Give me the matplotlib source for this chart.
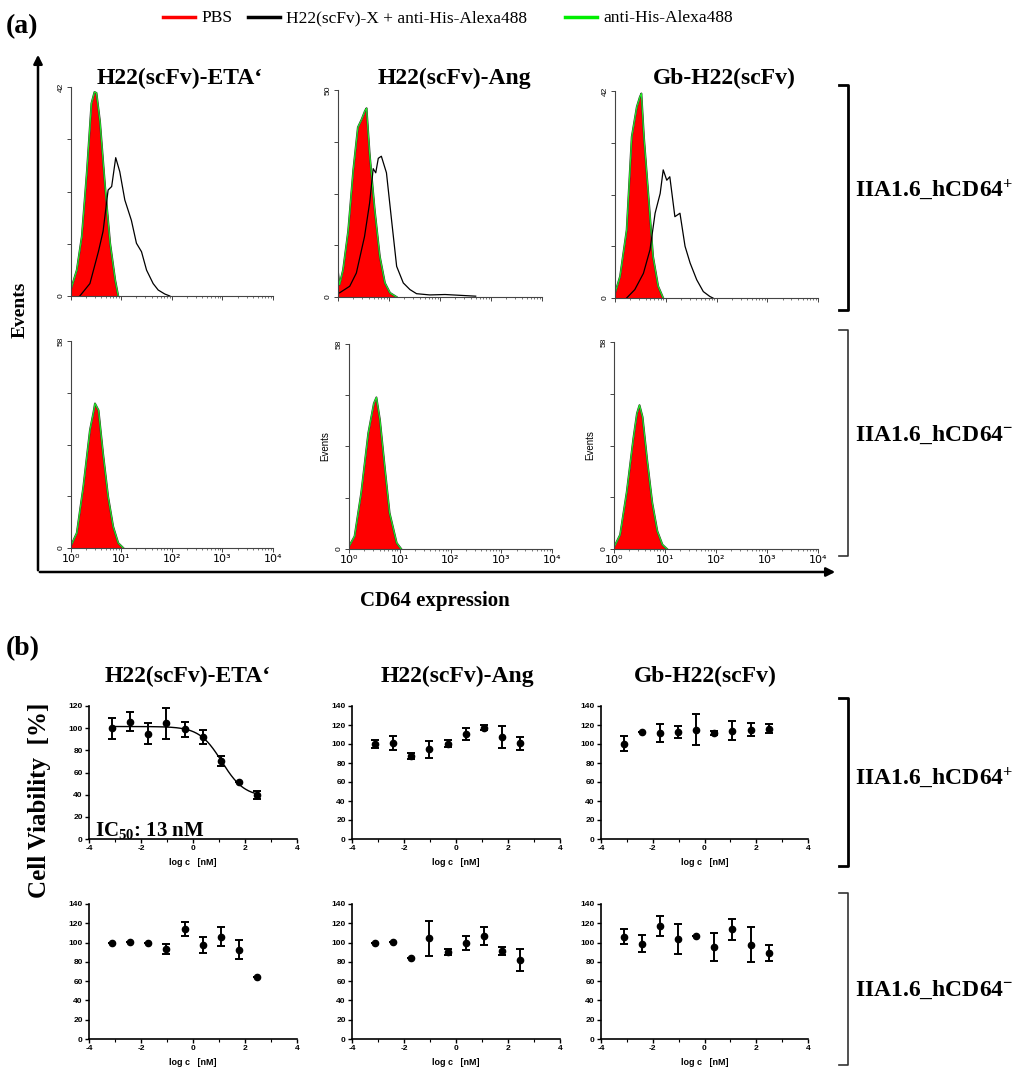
import numpy as np
import matplotlib
matplotlib.use("Agg")
import matplotlib.pyplot as plt
from matplotlib.lines import Line2D
from matplotlib.patches import FancyArrowPatch

plt.rcParams['mathtext.fontset'] = 'custom'
plt.rcParams['mathtext.rm'] = 'Liberation Serif:bold'
plt.rcParams['mathtext.it'] = 'Liberation Serif:bold'
plt.rcParams['mathtext.bf'] = 'Liberation Serif:bold'
plt.rcParams['axes.unicode_minus'] = False

SERIF = 'Liberation Serif'
SANS = 'Liberation Sans'

W, H = 1024, 1072

# ---------------- data: (a) flow cytometry histograms (x in decades) ----------------
constructs = ["H22(scFv)-ETA\u2018", "H22(scFv)-Ang", "Gb-H22(scFv)"]
cell_lines = ["IIA1.6_hCD64$^{+}$", "IIA1.6_hCD64$^{-}$"]
hist_ymax = [[42, 50, 42], [58, 58, 58]]
decade_labels = ["10\u2070", "10\u00b9", "10\u00b2", "10\u00b3", "10\u2074"]

# CD64+ row, PBS / anti-His control
pbs_x_eta = [0, 0.12, 0.22, 0.32, 0.41, 0.47, 0.51, 0.58, 0.68, 0.78, 0.88, 0.94]
pbs_y_eta = [1.2, 5.2, 12, 25, 38.7, 41, 40.8, 35, 22, 10.6, 3.2, 0]
pbs_x_ang = [0, 0.03, 0.1, 0.2, 0.3, 0.39, 0.46, 0.53, 0.56, 0.62, 0.72, 0.82, 0.92, 1.02, 1.15]
pbs_y_ang = [6, 3, 6.6, 16, 30.7, 41, 42.8, 45, 45.6, 34.7, 21, 9.8, 3.4, 1, 0]
pbs_x_gb = [0, 0.1, 0.23, 0.33, 0.43, 0.49, 0.52, 0.57, 0.66, 0.75, 0.85, 0.95]
pbs_y_gb = [1, 4.4, 13.8, 32.7, 38.8, 40.8, 41.5, 32.7, 20.6, 8.4, 2.4, 0]

# CD64+ row, H22(scFv)-X + anti-His
x_x_eta = [0.18, 0.38, 0.55, 0.64, 0.74, 0.81, 0.89, 0.97, 1.07, 1.2, 1.3, 1.4, 1.5, 1.63, 1.73, 1.86, 1.96]
x_y_eta = [0, 2.5, 9, 13, 21.3, 22, 27.8, 25, 19.3, 15.2, 10.6, 8.9, 5.2, 2.5, 1.2, 0.4, 0]
x_x_ang = [0.03, 0.23, 0.36, 0.52, 0.62, 0.69, 0.74, 0.79, 0.85, 0.95, 1.05, 1.15, 1.28, 1.41, 1.54, 1.8, 2.1, 2.4, 2.7]
x_y_ang = [1, 2.6, 5.8, 14.6, 22.7, 31, 30, 33.5, 34, 30, 18.6, 7.4, 3.4, 1.8, 0.8, 0.5, 0.6, 0.4, 0.2]
x_x_gb = [0.23, 0.39, 0.56, 0.69, 0.79, 0.89, 0.95, 1.02, 1.08, 1.18, 1.28, 1.38, 1.48, 1.61, 1.74, 1.87, 1.93]
x_y_gb = [0, 1.7, 5, 9.8, 17.2, 21.2, 26, 23.9, 24.6, 16.5, 17.2, 10.5, 7.1, 3.7, 1.3, 0.3, 0]

# CD64- row (all three curves overlap)
neg_x_eta = [0, 0.12, 0.25, 0.38, 0.45, 0.48, 0.55, 0.64, 0.74, 0.84, 0.94, 1.04]
neg_y_eta = [0.5, 4.2, 17.2, 33, 38, 40.5, 38.6, 26.5, 14.4, 6, 1.4, 0]
neg_x_ang = [0, 0.11, 0.24, 0.38, 0.49, 0.54, 0.61, 0.71, 0.8, 0.94, 1.03]
neg_y_ang = [0.75, 3.6, 15.8, 32.8, 41.2, 42.9, 36.5, 22.4, 10.2, 1.7, 0]
neg_x_gb = [0, 0.12, 0.25, 0.38, 0.45, 0.5, 0.56, 0.65, 0.75, 0.85, 0.95, 1.04]
neg_y_gb = [0.5, 4, 16, 31, 38, 40.3, 37, 25, 13, 5, 1.2, 0]

# ---------------- data: (b) viability ----------------
log_c = [-3.11, -2.42, -1.72, -1.02, -0.32, 0.38, 1.08, 1.78, 2.48]

via_pos_eta = [100, 106, 95, 104.5, 99, 92, 70, 51, 39.5]
err_pos_eta = [9.5, 8.5, 9.7, 14, 7, 6.7, 4.5, 0, 3.7]
via_pos_ang = [100, 101, 87.6, 94.3, 100.2, 110.3, 117.3, 107.5, 100.6]
err_pos_ang = [4, 7.5, 3.3, 9, 3.7, 6.5, 2.8, 11.7, 7]
via_pos_gb = [100.2, 112.3, 111.6, 112.7, 115.1, 111.6, 114, 115.1, 116.1]
err_pos_gb = [8, 0, 9, 6, 16, 2.6, 10, 6.5, 5]

via_neg_eta = [100, 100.7, 99.7, 93.1, 114.1, 97.9, 106.2, 92.8, 63.8]
err_neg_eta = [0, 0, 0, 5.3, 7.4, 8.3, 9.8, 9.5, 0]
via_neg_ang = [100, 101, 84.5, 104.5, 90.3, 99.7, 106.9, 91.4, 81.7]
err_neg_ang = [0, 0, 0, 18.3, 3.4, 7.4, 9, 4.5, 11.2]
via_neg_gb = [105.9, 98.6, 117.2, 103.4, 107.2, 95.5, 113.8, 97.9, 89.7]
err_neg_gb = [7.8, 8.8, 10.2, 15.7, 0, 14.7, 11, 18.4, 8.3]

# sigmoidal fit for H22(scFv)-ETA' on CD64+ cells
fit_top, fit_bottom, fit_logic50, fit_hill = 101.5, 38.0, 1.11, 1.0

fig = plt.figure(figsize=(W / 100, H / 100), dpi=100)


def add_ax(l, t, r, b):
    return fig.add_axes([l / W, 1 - b / H, (r - l) / W, (b - t) / H])


def ftext(x, y, s, **kw):
    return fig.text(x / W, 1 - y / H, s, **kw)


def fline(xs, ys, **kw):
    fig.add_artist(Line2D([x / W for x in xs], [1 - y / H for y in ys],
                          transform=fig.transFigure, **kw))


# ================= panel (a) =================
ftext(6, 33, "(a)", family=SERIF, weight='bold', fontsize=20, va='baseline')

# legend
leg = [("red", "PBS", 163), ("black", "H22(scFv)-X + anti-His-Alexa488", 248),
       ("#00ee00", "anti-His-Alexa488", 565)]
for col, lab, x0 in leg:
    fline([x0, x0 + 32], [17, 17], color=col, lw=2.5)
    ftext(x0 + 38, 22, lab, family=SERIF, fontsize=12.5, va='baseline')

hist_rects = [[(70.7, 87, 273, 296), (338, 90, 542, 297), (615, 91, 818, 298)],
              [(70.7, 341, 273, 548), (349, 344, 552, 549), (614, 342, 818, 549)]]
pos_pbs = [(pbs_x_eta, pbs_y_eta), (pbs_x_ang, pbs_y_ang), (pbs_x_gb, pbs_y_gb)]
pos_x = [(x_x_eta, x_y_eta), (x_x_ang, x_y_ang), (x_x_gb, x_y_gb)]
neg_all = [(neg_x_eta, neg_y_eta), (neg_x_ang, neg_y_ang), (neg_x_gb, neg_y_gb)]

minor = [d + np.log10(k) for d in range(4) for k in range(2, 10)]
for r in range(2):
    for c in range(3):
        ax = add_ax(*hist_rects[r][c])
        ymax = hist_ymax[r][c]
        if r == 0:
            px, py = pos_pbs[c]
            ax.plot(px, py, color='#333333', lw=1.4)
            ax.fill_between(px, py, color='red', lw=0)
            ax.plot(px, py, color='#22ee22', lw=0.8)
            bx, by = pos_x[c]
            ax.plot(bx, by, color='black', lw=0.9)
        else:
            px, py = neg_all[c]
            ax.plot(px, py, color='#333333', lw=1.4)
            ax.fill_between(px, py, color='red', lw=0)
            ax.plot(px, py, color='#22ee22', lw=0.8)
        ax.set_xlim(0, 4)
        ax.set_ylim(0, ymax)
        for s in ['top', 'right']:
            ax.spines[s].set_visible(False)
        for s in ['left', 'bottom']:
            ax.spines[s].set_linewidth(0.8)
            ax.spines[s].set_color('#444444')
        ax.set_xticks(range(5))
        ax.set_xticks(minor, minor=True)
        ax.set_yticks(np.linspace(0, ymax, 5))
        ax.set_yticklabels(['0', '', '', '', str(ymax)], rotation=90, va='center',
                           fontsize=6, family=SANS)
        ax.tick_params(axis='both', which='major', length=3, width=0.7, color='#444444', pad=1.5)
        ax.tick_params(axis='x', which='minor', length=1.5, width=0.5, color='#444444')
        if r == 1:
            ax.set_xticklabels(decade_labels, fontsize=8, family='DejaVu Sans')
            if c > 0:
                ax.set_ylabel("Events", fontsize=7, family=SANS, labelpad=4)
        else:
            ax.set_xticklabels([])
        ax.patch.set_alpha(0)

# titles over (a)
for xc, name in zip([180, 454, 724], constructs):
    ftext(xc, 84, name, family=SERIF, weight='bold', fontsize=17, ha='center', va='baseline')

# big axis arrows
fig.add_artist(FancyArrowPatch((38 / W, 1 - 573 / H), (38 / W, 1 - 52 / H), transform=fig.transFigure,
                               arrowstyle='-|>', mutation_scale=13, lw=1.8, color='black'))
fig.add_artist(FancyArrowPatch((37 / W, 1 - 572 / H), (838 / W, 1 - 572 / H), transform=fig.transFigure,
                               arrowstyle='-|>', mutation_scale=13, lw=1.8, color='black'))
ftext(20, 310, "Events", family=SERIF, weight='bold', fontsize=14, rotation=90,
      ha='center', va='center')
ftext(435, 601, "CD64 expression", family=SERIF, weight='bold', fontsize=15,
      ha='center', va='center')


# brackets + cell-line labels
def bracket(x, y0, y1, lw=2.0, col='black'):
    fline([x - 9, x, x, x - 9], [y0, y0, y1, y1], color=col, lw=lw)


bracket(848, 85, 310)
bracket(848, 330, 556, lw=1.2, col='#333333')
bracket(848, 698, 866)
bracket(848, 893, 1065, lw=1.2, col='#333333')
for yc, lab in zip([190, 435, 778, 990], [cell_lines[0], cell_lines[1], cell_lines[0], cell_lines[1]]):
    ftext(855, yc, lab, family=SERIF, weight='bold', fontsize=17, va='center')

# ================= panel (b) =================
ftext(6, 655, "(b)", family=SERIF, weight='bold', fontsize=20, va='baseline')
for xc, name in zip([188, 457, 705], constructs):
    ftext(xc, 682, name, family=SERIF, weight='bold', fontsize=17, ha='center', va='baseline')

via_rects = [[(89, 706, 297, 839), (352, 706, 560, 839), (601, 706, 808, 839)],
             [(89, 904, 297, 1039), (352, 904, 560, 1039), (601, 904, 808, 1039)]]
via_data = [[(via_pos_eta, err_pos_eta), (via_pos_ang, err_pos_ang), (via_pos_gb, err_pos_gb)],
            [(via_neg_eta, err_neg_eta), (via_neg_ang, err_neg_ang), (via_neg_gb, err_neg_gb)]]

for r in range(2):
    for c in range(3):
        ax = add_ax(*via_rects[r][c])
        v, e = via_data[r][c]
        ax.errorbar(log_c, v, yerr=e, fmt='o', color='black', ms=4.5, capsize=3,
                    elinewidth=1.4, capthick=1.4)
        if r == 0 and c == 0:
            xf = np.linspace(log_c[0], log_c[-1], 200)
            yf = fit_bottom + (fit_top - fit_bottom) / (1 + 10 ** ((xf - fit_logic50) * fit_hill))
            ax.plot(xf, yf, color='black', lw=1.0)
            ax.set_ylim(0, 120)
            ax.set_yticks(range(0, 121, 20))
        else:
            ax.set_ylim(0, 140)
            ax.set_yticks(range(0, 141, 20))
        ax.set_xlim(-4, 4)
        ax.set_xticks([-4, -2, 0, 2, 4])
        ax.set_xticks([-3, -1, 1, 3], minor=True)
        for s in ['top', 'right']:
            ax.spines[s].set_visible(False)
        for s in ['left', 'bottom']:
            ax.spines[s].set_linewidth(1.2)
        ax.tick_params(axis='both', which='major', length=3, width=1.0, labelsize=6, pad=1.5)
        ax.tick_params(axis='x', which='minor', length=2, width=0.8)
        for lab in ax.get_xticklabels() + ax.get_yticklabels():
            lab.set_fontweight('bold')
            lab.set_family(SANS)
        ax.set_xlabel("log c   [nM]", fontsize=6.5, fontweight='bold', family=SANS, labelpad=4)
        ax.patch.set_alpha(0)

ftext(95, 836, "IC$_{50}$: 13 nM", family=SERIF, weight='bold', fontsize=15, va='baseline')
ftext(40, 800, "Cell Viability  [%]", family=SERIF, weight='bold', fontsize=18, rotation=90,
      ha='center', va='center')

fig.savefig("out.png", dpi=100)
